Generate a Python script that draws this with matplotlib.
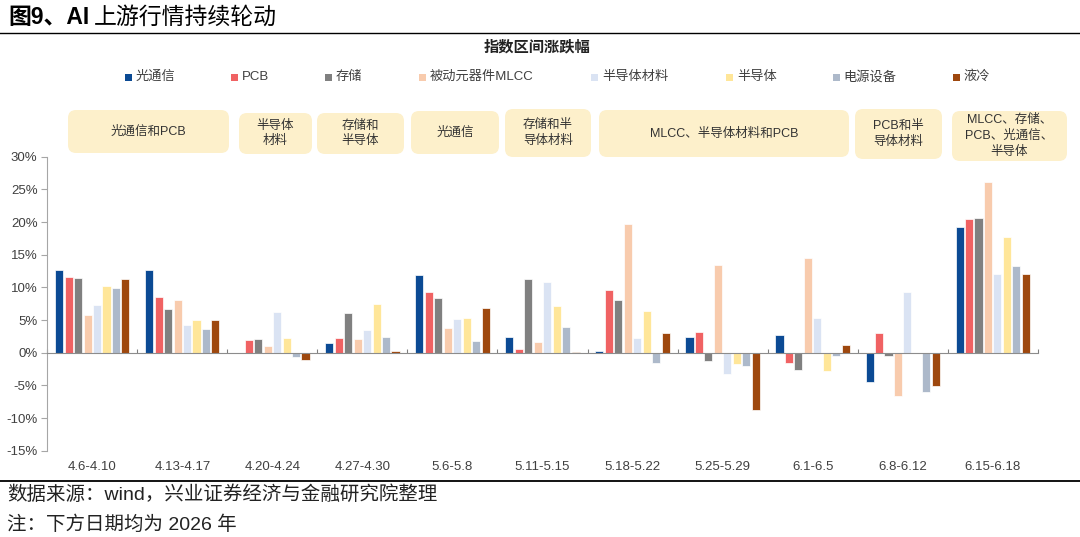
import matplotlib
matplotlib.use('Agg')
import matplotlib.pyplot as plt
import matplotlib.transforms as mtransforms
from matplotlib.patches import FancyBboxPatch, Rectangle
import numpy as np

plt.rcParams['font.family'] = ['Liberation Sans', 'Noto Sans CJK SC']

# ---- data (percent change over each window) ----
periods = ['4.6-4.10', '4.13-4.17', '4.20-4.24', '4.27-4.30', '5.6-5.8', '5.11-5.15',
           '5.18-5.22', '5.25-5.29', '6.1-6.5', '6.8-6.12', '6.15-6.18']
series_names = ['光通信', 'PCB', '存储', '被动元器件MLCC', '半导体材料', '半导体', '电源设备', '液冷']

opt_comm = [12.65, 12.65, 0.0, 1.43, 11.94, 2.45, 0.26, 2.40, 2.76, -4.54, 19.23]
pcb      = [11.63, 8.47, 1.99, 2.24, 9.29, 0.51, 9.54, 3.11, -1.63, 2.96, 20.41]
storage  = [11.48, 6.68, 2.14, 6.02, 8.32, 11.22, 8.01, -1.28, -2.60, -0.46, 20.61]
mlcc     = [5.77, 8.06, 1.07, 2.14, 3.72, 1.58, 19.74, 13.42, 14.54, -6.68, 26.12]
semi_mat = [7.30, 4.23, 6.22, 3.47, 5.15, 10.87, 2.19, -3.27, 5.36, 9.34, 12.09]
semi     = [10.20, 5.00, 2.30, 7.40, 5.26, 7.14, 6.38, -1.73, -2.76, -0.05, 17.70]
power    = [9.85, 3.57, -0.71, 2.45, 1.79, 3.88, -1.63, -2.09, -0.51, -6.02, 13.21]
liquid   = [11.28, 4.95, -1.12, 0.20, 6.89, 0.15, 3.01, -8.78, 1.17, -5.15, 12.04]

# callout boxes above the chart
box_labels = ['光通信和PCB', '半导体\n材料', '存储和\n半导体', '光通信', '存储和半\n导体材料',
              'MLCC、半导体材料和PCB', 'PCB和半\n导体材料', 'MLCC、存储、\nPCB、光通信、\n半导体']
box_px = [(68, 110, 229, 153), (239, 113, 312, 154), (317, 113, 404, 154), (411, 111, 499, 154),
          (505, 109, 591, 157), (599, 110, 849, 157), (855, 109, 942, 159), (952, 111, 1067, 161)]

colors = ['#0B4A94', '#F06263', '#808080', '#F8CBAD', '#DAE3F3', '#FFE699', '#ADB9CA', '#9E480E']
legend_px = [128, 234, 328, 422.5, 594.5, 729.5, 836, 956]

W, H = 1080, 537
fig = plt.figure(figsize=(W / 100, H / 100), dpi=100)
ax = fig.add_axes([47.3 / W, 1 - 450.7 / H, 990.4 / W, 294 / H])

values = [opt_comm, pcb, storage, mlcc, semi_mat, semi, power, liquid]
x = np.arange(len(periods)) + 0.5
pitch = 0.105
for j, (vals, c) in enumerate(zip(values, colors)):
    ax.bar(x + (j - 3.5) * pitch, vals, width=0.09, color=c,
           edgecolor='white', linewidth=0.5, zorder=2)

ax.set_xlim(0, len(periods))
ax.set_ylim(-15, 30)
ax.set_yticks(np.arange(-15, 31, 5))
ax.set_yticklabels([f'{v}%' for v in range(-15, 31, 5)])
ax.tick_params(axis='y', direction='out', length=4, width=0.8, color='#A6A6A6',
               labelsize=9.5, labelcolor='#404040', pad=3)
ax.set_xticks(np.arange(len(periods) + 1))
ax.set_xticklabels([])
ax.tick_params(axis='x', direction='in', length=3, width=0.8, color='#808080')
for s in ['top', 'right']:
    ax.spines[s].set_visible(False)
ax.spines['left'].set_color('#A6A6A6')
ax.spines['bottom'].set_position(('data', 0))
ax.spines['bottom'].set_color('#8C8C8C')
ax.spines['bottom'].set_zorder(3)

trans = mtransforms.blended_transform_factory(ax.transData, ax.transAxes)
for xi, lab in zip(x, periods):
    ax.text(xi, -0.054, lab, transform=trans, ha='center', va='center',
            fontsize=9.5, color='#404040')

# pixel helpers
def fx(px):
    return px / W

def fy(py):
    return 1 - py / H

# header / footer
t1 = fig.text(fx(8), fy(17), '图9、AI', fontsize=16.5, fontweight='bold', va='center', ha='left')
fig.canvas.draw()
bb = t1.get_window_extent()
fig.text(bb.x1 / W + 5 / W, fy(17), '上游行情持续轮动', fontsize=16.5, va='center', ha='left')
fig.add_artist(plt.Line2D([0, 1], [fy(33), fy(33)], color='black', linewidth=1.0))
fig.add_artist(plt.Line2D([0, 1], [fy(481), fy(481)], color='black', linewidth=1.3))
fig.text(fx(7), fy(495), '数据来源：wind，兴业证券经济与金融研究院整理', fontsize=14, va='center', color='#222222')
fig.text(fx(7), fy(525), '注：下方日期均为 2026 年', fontsize=14, va='center', color='#222222')

fig.text(fx(537), fy(47), '指数区间涨跌幅', fontsize=11, fontweight='bold', ha='center', va='center', color='#222222')

# legend
for px, name, c in zip(legend_px, series_names, colors):
    fig.add_artist(Rectangle((fx(px - 3.5), fy(77.5 + 3.5)), 7 / W, 7 / H, transform=fig.transFigure,
                             facecolor=c, edgecolor='none'))
    fig.text(fx(px + 7.5), fy(77), name, fontsize=9.5, va='center', ha='left', color='#404040')

# callout boxes
for (x0, y0, x1, y1), lab in zip(box_px, box_labels):
    patch = FancyBboxPatch((x0, H - y1), x1 - x0, y1 - y0,
                           boxstyle='round,pad=0,rounding_size=8',
                           transform=mtransforms.IdentityTransform(),
                           facecolor='#FDF0CB', edgecolor='none')
    fig.add_artist(patch)
    fig.text(fx((x0 + x1) / 2), fy((y0 + y1) / 2), lab, fontsize=9, ha='center', va='center',
             color='#333333', linespacing=1.4)

fig.savefig('out.png', dpi=100)
